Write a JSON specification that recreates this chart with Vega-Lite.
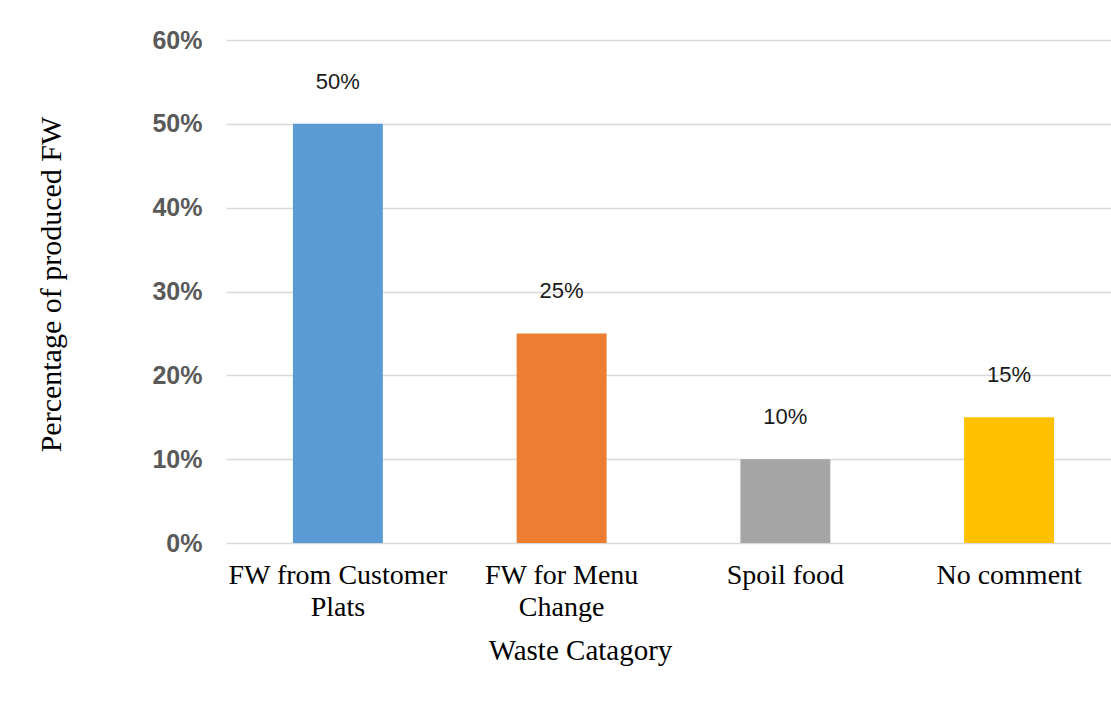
{
  "$schema": "https://vega.github.io/schema/vega-lite/v6.json",
  "autosize": "none",
  "width": 885,
  "height": 503,
  "padding": {"left": 226, "top": 40, "right": 0, "bottom": 176},
  "background": "white",
  "config": {"view": {"stroke": null}},
  "data": {
    "values": [
      {"category": "FW from Customer Plats", "value": 0.5, "label": "50%"},
      {"category": "FW for Menu Change", "value": 0.25, "label": "25%"},
      {"category": "Spoil food", "value": 0.1, "label": "10%"},
      {"category": "No comment", "value": 0.15, "label": "15%"}
    ]
  },
  "encoding": {
    "x": {
      "field": "category",
      "type": "nominal",
      "sort": null,
      "scale": {"range": [0, 895], "paddingInner": 0.598, "paddingOuter": 0.299},
      "axis": {
        "title": "Waste Catagory",
        "titleFont": "Liberation Serif",
        "titleFontSize": 29,
        "titleFontWeight": "normal",
        "titleColor": "black",
        "titlePadding": 15,
        "titleX": 354,
        "titleAlign": "center",
        "labelFont": "Liberation Serif",
        "labelFontSize": 28,
        "labelColor": "black",
        "labelAngle": 0,
        "labelLineHeight": 32,
        "labelPadding": 18,
        "labelLimit": 400,
        "labelExpr": "datum.value == 'FW from Customer Plats' ? ['FW from Customer', 'Plats'] : datum.value == 'FW for Menu Change' ? ['FW for Menu', 'Change'] : datum.value",
        "ticks": false,
        "domain": false,
        "grid": false
      }
    },
    "y": {
      "field": "value",
      "type": "quantitative",
      "scale": {"domain": [0, 0.6], "nice": false},
      "axis": {
        "title": "Percentage of produced FW",
        "titleFont": "Liberation Serif",
        "titleFontSize": 30,
        "titleFontWeight": "normal",
        "titleColor": "black",
        "titlePadding": 85,
        "titleY": 244,
        "values": [0, 0.1, 0.2, 0.3, 0.4, 0.5, 0.6],
        "format": ".0%",
        "labelFont": "Liberation Sans",
        "labelFontSize": 25,
        "labelFontWeight": "bold",
        "labelColor": "#595959",
        "labelPadding": 24,
        "ticks": false,
        "domain": false,
        "grid": true,
        "gridColor": "#d9d9d9",
        "gridWidth": 1.5
      }
    }
  },
  "layer": [
    {
      "mark": {"type": "bar"},
      "encoding": {
        "color": {
          "field": "category",
          "type": "nominal",
          "sort": null,
          "scale": {
            "domain": ["FW from Customer Plats", "FW for Menu Change", "Spoil food", "No comment"],
            "range": ["#5b9bd5", "#ed7d31", "#a5a5a5", "#ffc000"]
          },
          "legend": null
        }
      }
    },
    {
      "mark": {
        "type": "text",
        "font": "Liberation Sans",
        "fontSize": 22,
        "color": "#1a1a1a",
        "baseline": "alphabetic",
        "dy": -35
      },
      "encoding": {"text": {"field": "label"}}
    }
  ]
}
